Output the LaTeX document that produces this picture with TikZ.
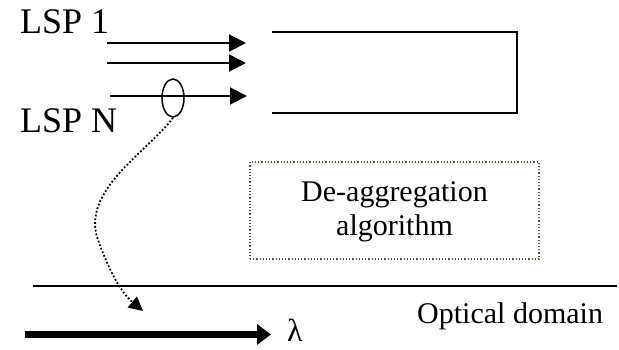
\documentclass[tikz,border=0pt]{standalone}
\usepackage{fontspec}
\setmainfont{Liberation Serif}
\usetikzlibrary{arrows.meta,shapes.geometric}
\definecolor{boxdot}{HTML}{5A5A38}
\tikzset{
  big/.style={font=\fontsize{36}{42}\selectfont, inner sep=0pt, anchor=base west},
  txt/.style={font=\fontsize{30}{36}\selectfont, inner sep=0pt},
  lsparrow/.style={line width=2pt, -{Triangle[length=17pt,width=17pt]}},
  thickarrow/.style={line width=6.5pt, -{Triangle[length=14pt,width=20pt]}},
  plainline/.style={line width=2pt},
}
\begin{document}
\begin{tikzpicture}[x=1pt,y=-1pt]
\useasboundingbox (0,0) rectangle (619,350);
% labels
\node[big] (l1) at (20,34) {LSP 1};
\node[big] (ln) at (20,133) {LSP N};
% arrow coordinates
\coordinate (a1s) at (107,43); \coordinate (a1e) at (246,43);
\coordinate (a2s) at (107,63); \coordinate (a2e) at (246,63);
\coordinate (a3s) at (110,96); \coordinate (a3e) at (247,96);
\draw[lsparrow] (a1s) -- (a1e);
\draw[lsparrow] (a2s) -- (a2e);
\draw[lsparrow] (a3s) -- (a3e);
% ellipse
\node[draw, ellipse, line width=1.5pt, minimum width=22pt, minimum height=38pt, inner sep=0pt] (el) at (173,98) {};
% open rectangle
\coordinate (r1) at (272,32); \coordinate (r2) at (517,32);
\coordinate (r3) at (517,113); \coordinate (r4) at (272,113);
\draw[plainline] (r1) -- (r2) -- (r3) -- (r4);
% dotted box
\node[draw=boxdot, dotted, line width=1.2pt, minimum width=289pt, minimum height=97pt, inner sep=0pt] (alg) at (394.5,210.5) {};
\node[txt, anchor=base] (t1) at (394.5,201) {De-aggregation};
\node[txt, anchor=base] (t2) at (394.5,236) {algorithm};
% dotted curve
\coordinate (ce) at (143,311);
\draw[line width=1.8pt, dotted, -{Triangle[length=14pt,width=14pt]}] (el.south) .. controls (150,150) and (80,190) .. (98,240) .. controls (106,262) and (118,290) .. (ce);
% horizontal line
\coordinate (h1) at (33,286); \coordinate (h2) at (617,286);
\draw[plainline] (h1) -- (h2);
\node[txt, anchor=base west] (od) at (417,323) {Optical domain};
% thick arrow
\coordinate (t1s) at (25,334.5); \coordinate (t1e) at (271,334.5);
\draw[thickarrow] (t1s) -- (t1e);
\node[font=\fontsize{32}{36}\selectfont, inner sep=0pt, anchor=base west] (lam) at (287,341) {λ};
\end{tikzpicture}
\end{document}
